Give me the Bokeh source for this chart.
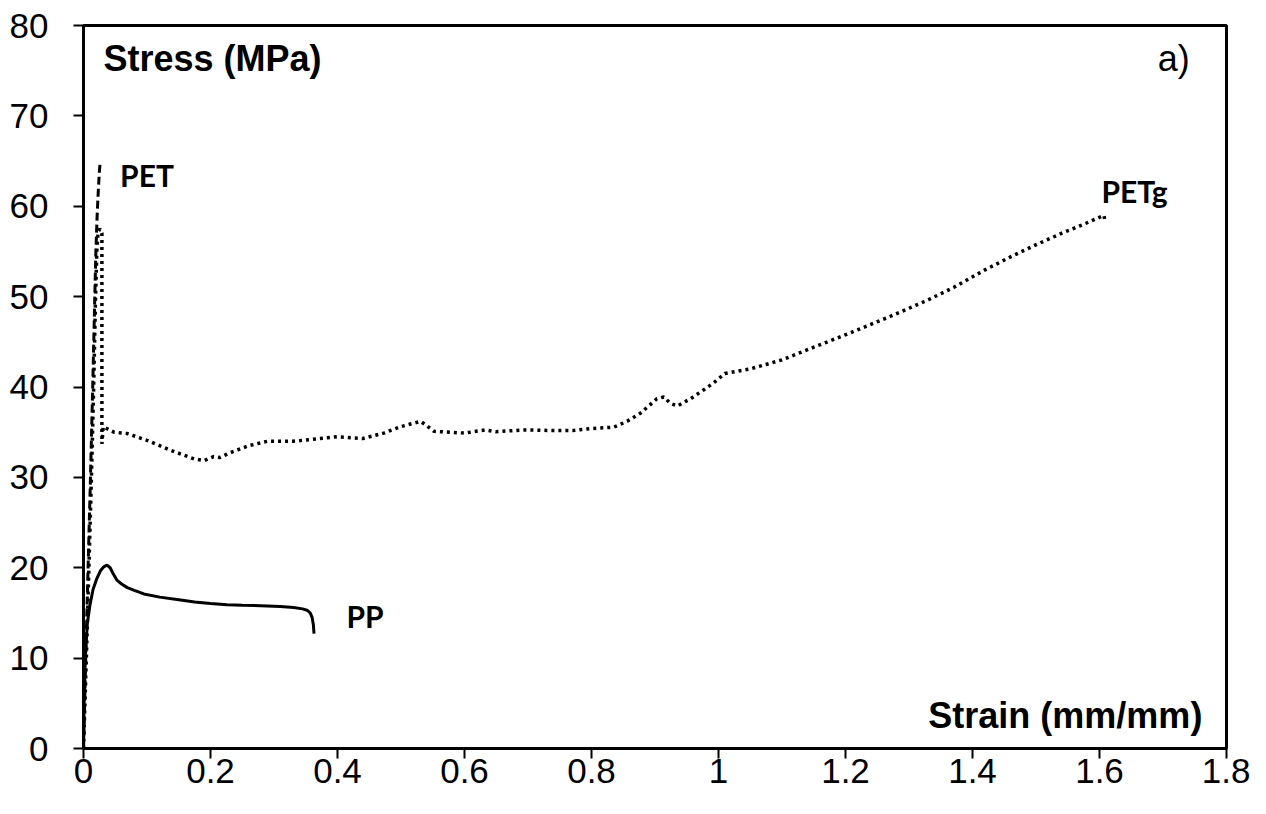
from bokeh.plotting import figure
from bokeh.models import Range1d, FixedTicker, NumeralTickFormatter, ColumnDataSource
from bokeh.core.properties import value
from bokeh.embed import file_html
from bokeh.resources import INLINE

# ---- data ----
pp_strain = [0, 0.001, 0.003, 0.006, 0.010, 0.015, 0.021, 0.027, 0.032, 0.037, 0.042, 0.047,
             0.053, 0.060, 0.069, 0.080, 0.095, 0.12, 0.15, 0.175, 0.2, 0.226, 0.25, 0.279,
             0.31, 0.331, 0.345, 0.352, 0.357, 0.36, 0.362, 0.363]
pp_stress = [0, 5, 10.5, 13.8, 15.8, 17.6, 18.8, 19.7, 20.1, 20.3, 20.0, 19.3,
             18.6, 18.2, 17.8, 17.5, 17.1, 16.75, 16.45, 16.2, 16.05, 15.9, 15.85, 15.8,
             15.7, 15.6, 15.45, 15.3, 15.0, 14.5, 13.7, 12.7]

pet_strain = [0, 0.0035, 0.0072, 0.0110, 0.0145, 0.0178, 0.0195, 0.0215, 0.0235, 0.0252, 0.0262]
pet_stress = [0, 10, 20, 30, 40, 50, 55, 59, 62, 64, 64.8]

petg_strain = [0, 0.0045, 0.0085, 0.0125, 0.016, 0.019, 0.021, 0.023, 0.026, 0.029, 0.029,
               0.031, 0.048, 0.069, 0.100, 0.137, 0.174, 0.19, 0.205, 0.215, 0.23, 0.26,
               0.29, 0.33, 0.36, 0.40, 0.44, 0.473, 0.499, 0.531, 0.541, 0.552, 0.60,
               0.633, 0.649, 0.693, 0.73, 0.772, 0.798, 0.835, 0.856, 0.877, 0.903, 0.914,
               0.924, 0.935, 0.956, 0.977, 0.993, 1.01, 1.05, 1.10, 1.15, 1.208, 1.27,
               1.329, 1.37, 1.418, 1.46, 1.502, 1.54, 1.575, 1.607, 1.609]
petg_stress = [0, 10, 20, 30, 40, 50, 55, 57.2, 57.5, 57.0, 33.7,
               35.6, 35.0, 34.85, 34.1, 33.0, 32.05, 31.85, 32.3, 32.2, 32.7, 33.5,
               34.0, 34.0, 34.2, 34.5, 34.3, 34.9, 35.6, 36.2, 35.7, 35.1, 34.9,
               35.25, 35.05, 35.25, 35.2, 35.2, 35.4, 35.55, 36.2, 37.1, 38.7, 38.9,
               38.2, 37.9, 38.7, 39.7, 40.5, 41.5, 42.0, 43.0, 44.4, 46.0, 47.8,
               49.6, 51.0, 52.9, 54.4, 55.8, 57.0, 58.0, 59.0, 58.2]

x_ticks = [0, 0.2, 0.4, 0.6, 0.8, 1.0, 1.2, 1.4, 1.6, 1.8]
y_ticks = [0, 10, 20, 30, 40, 50, 60, 70, 80]

series_names = ["PET", "PETg", "PP"]
series_label_x = [0.0576, 1.603, 0.414]
series_label_y = [63.45, 61.7, 14.66]

# ---- figure ----
p = figure(width=1250, height=798, output_backend="svg", toolbar_location=None,
           x_range=Range1d(0, 1.8), y_range=Range1d(0, 80),
           min_border_left=83, min_border_right=24, min_border_top=25, min_border_bottom=50)
p.background_fill_color = "white"
p.border_fill_color = "white"
p.grid.visible = False
p.outline_line_color = "black"
p.outline_line_width = 3

for ax in (p.xaxis[0], p.yaxis[0]):
    ax.axis_line_width = 3
    ax.axis_line_color = "black"
    ax.major_tick_line_width = 2
    ax.major_tick_in = 0
    ax.major_tick_out = 10
    ax.minor_tick_line_color = None
    ax.major_label_text_font = "Liberation Sans"
    ax.major_label_text_font_size = "35px"
    ax.major_label_text_color = "black"

p.xaxis.ticker = FixedTicker(ticks=x_ticks)
p.xaxis.formatter = NumeralTickFormatter(format="0.[0]")
p.xaxis.major_label_standoff = 0
p.yaxis.ticker = FixedTicker(ticks=y_ticks)
p.yaxis.major_label_standoff = 25

p.line(petg_strain, petg_stress, line_color="black", line_width=3.5, line_dash="3 4")
p.line(pet_strain, pet_stress, line_color="black", line_width=3, line_dash="8 4")
p.line(pp_strain, pp_stress, line_color="black", line_width=3)

src = ColumnDataSource(dict(x=series_label_x, y=series_label_y, t=series_names))
p.text(x="x", y="y", text="t", source=src, text_font=value("Lato"), text_font_style="bold",
       text_font_size="30px", text_color="black", text_baseline="alphabetic", text_align="left")

p.text(x=[0.0315], y=[76.36], text=["Stress (MPa)"], text_font=value("Liberation Sans"),
       text_font_style="bold", text_font_size="36px", text_color="black",
       text_baseline="alphabetic", text_align="left")
p.text(x=[1.762], y=[3.6], text=["Strain (mm/mm)"], text_font=value("Liberation Sans"),
       text_font_style="bold", text_font_size="36px", text_color="black",
       text_baseline="alphabetic", text_align="right")
p.text(x=[1.742], y=[76.36], text=["a)"], text_font=value("Liberation Sans"),
       text_font_size="36px", text_color="black",
       text_baseline="alphabetic", text_align="right")

open("out.html", "w").write(file_html(p, INLINE))
